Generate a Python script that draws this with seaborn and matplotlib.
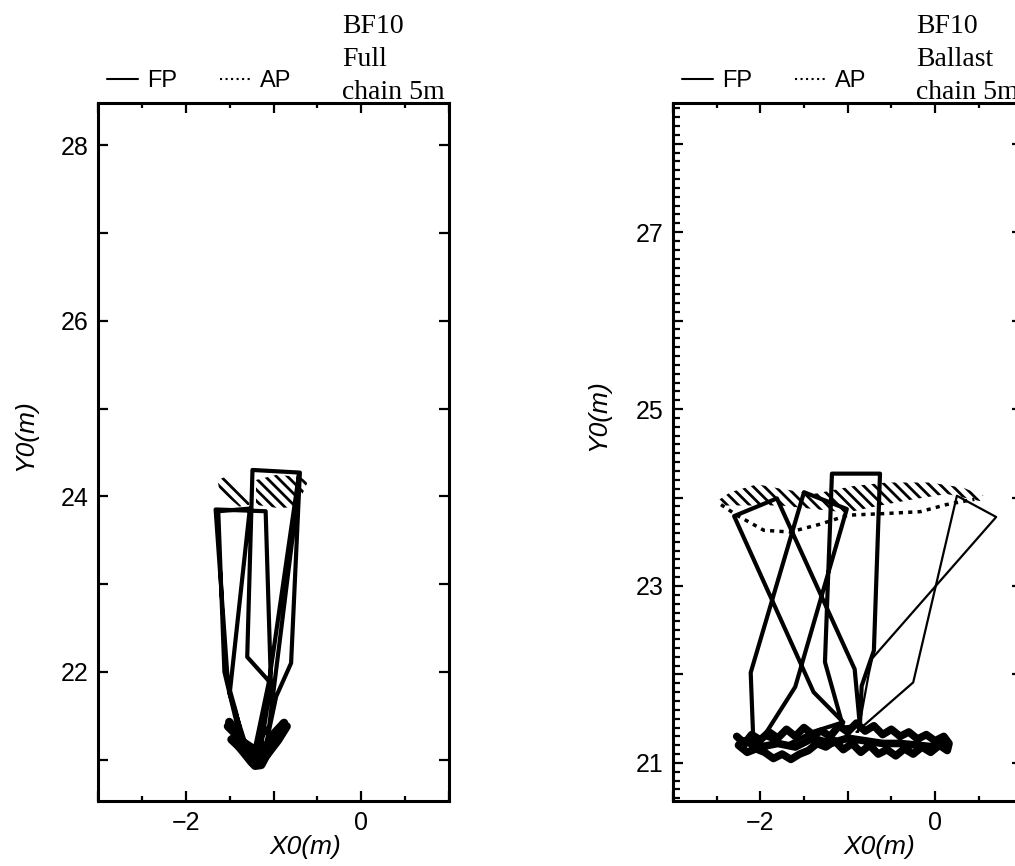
import numpy as np
import matplotlib
matplotlib.use('Agg')
import matplotlib.pyplot as plt
import seaborn as sns
from matplotlib.ticker import MultipleLocator
from matplotlib.lines import Line2D

# ---- data ----
# left panel: BF10 full, chain 5m
full_fp_x = [-1.30, -1.43, -1.52, -1.66, -1.09, -1.03, -1.20, -1.08, -0.97, -0.80, -0.70, -1.24,
             -1.30, -1.03, -1.15, -1.38, -1.56, -1.63, -1.27, -1.50, -1.28, -1.05, -0.74, -0.71,
             -1.05, -1.25]
full_fp_y = [21.00, 21.55, 21.87, 23.85, 23.83, 21.87, 20.98, 21.20, 21.72, 22.10, 24.27, 24.30,
             22.17, 21.87, 21.10, 21.25, 22.00, 23.83, 23.86, 21.75, 21.05, 21.38, 23.88, 24.25,
             21.90, 20.95]
full_blob_x = [-1.505, -1.39, -1.48, -1.33, -1.41, -1.25, -1.21, -1.14, -1.05, -1.12, -0.96,
               -1.02, -0.88, -0.93, -0.85, -0.95, -1.08, -1.18, -1.30, -1.44, -1.52]
full_blob_y = [21.43, 21.28, 21.23, 21.09, 21.17, 20.97, 20.93, 20.94, 21.11, 21.13, 21.28,
               21.27, 21.42, 21.34, 21.38, 21.22, 21.05, 21.00, 21.15, 21.30, 21.38]
full_ap1_x = [-1.638, -1.543, -1.277, -1.277, -1.391, -1.619]
full_ap1_y = [24.186, 24.224, 23.996, 23.902, 23.883, 24.072]
full_ap2_x = [-1.200, -0.972, -0.705, -0.610, -0.667, -0.743, -0.934, -1.200]
full_ap2_y = [24.186, 24.243, 24.224, 24.167, 24.034, 23.883, 23.864, 23.902]

# right panel: BF10 ballast, chain 5m
ball_fp_x = [-2.08, -2.11, -1.50, -1.01, -1.60, -1.96, -1.70, -1.40, -1.05, -1.39, -2.30, -1.81,
             -0.92, -0.86, -1.05, -1.26, -1.18, -0.63, -0.70, -0.84, -0.86]
ball_fp_y = [21.25, 22.02, 24.06, 23.87, 21.86, 21.30, 21.20, 21.35, 21.46, 21.80, 23.79, 23.99,
             22.06, 21.42, 21.40, 22.14, 24.27, 24.27, 22.27, 21.87, 21.42]
ball_thin_x = [-0.90, -0.25, 0.25, 0.70, -0.72, -0.76, -0.88]
ball_thin_y = [21.35, 21.91, 24.02, 23.78, 22.18, 22.00, 21.35]
ball_blob_x = [-2.27, -2.18, -2.10, -2.00, -1.90, -1.80, -1.70, -1.60, -1.50, -1.40, -1.30, -1.20,
               -1.10, -1.00, -0.90, -0.80, -0.70, -0.60, -0.50, -0.40, -0.30, -0.20, -0.10, 0.00,
               0.10, 0.16, 0.14, 0.05, -0.05, -0.15, -0.25, -0.35, -0.45, -0.55, -0.65, -0.75,
               -0.85, -0.95, -1.05, -1.15, -1.25, -1.35, -1.45, -1.55, -1.65, -1.75, -1.85, -1.95,
               -2.05, -2.15, -2.25, -2.20, -2.00, -1.80, -1.60, -1.40, -1.20, -1.00, -0.80, -0.60,
               -0.40, -0.20, 0.00, 0.12]
ball_blob_y = [21.30, 21.22, 21.32, 21.26, 21.35, 21.28, 21.38, 21.30, 21.40, 21.32, 21.36, 21.30,
               21.42, 21.35, 21.45, 21.36, 21.42, 21.32, 21.38, 21.30, 21.35, 21.27, 21.32, 21.25,
               21.30, 21.22, 21.14, 21.20, 21.12, 21.18, 21.10, 21.16, 21.08, 21.15, 21.10, 21.20,
               21.12, 21.22, 21.15, 21.25, 21.18, 21.22, 21.14, 21.10, 21.04, 21.10, 21.05, 21.12,
               21.16, 21.12, 21.20, 21.25, 21.18, 21.22, 21.18, 21.28, 21.22, 21.28, 21.25, 21.22,
               21.22, 21.20, 21.18, 21.24]
ball_ap_x = [-2.495, -2.343, -2.038, -1.771, -1.390, -0.933, -0.552, -0.057, 0.324, 0.553,
             0.515, 0.134, -0.247, -0.628, -1.009, -1.390, -1.771, -2.152, -2.457]
ball_ap_y = [23.96, 24.06, 24.15, 24.10, 24.04, 24.13, 24.17, 24.17, 24.11, 24.02,
             23.96, 24.04, 23.98, 23.91, 23.83, 23.87, 23.91, 23.91, 23.91]
ball_arc_x = [-2.45, -2.27, -1.96, -1.66, -1.31, -1.00, -0.55, -0.17, 0.13, 0.45]
ball_arc_y = [23.92, 23.80, 23.63, 23.61, 23.70, 23.80, 23.82, 23.84, 23.92, 23.98]

x_ticks = [-3, -2, -1, 0, 1]
x_labels = ['', '\u22122', '', '0', '']
full_yticks = [21, 22, 23, 24, 25, 26, 27, 28]
full_ylabels = ['', '22', '', '24', '', '26', '', '28']
ball_yticks = [21, 22, 23, 24, 25, 26, 27, 28]
ball_ylabels = ['21', '', '23', '', '25', '', '27', '']

sns.set_style('ticks')
plt.rcParams['font.family'] = ['Liberation Sans', 'DejaVu Sans']
plt.rcParams['hatch.linewidth'] = 2.0
for key in ['text.color', 'axes.labelcolor', 'xtick.color', 'ytick.color', 'axes.edgecolor']:
    plt.rcParams[key] = 'black'

fig = plt.figure(figsize=(10.15, 8.66), dpi=100)
ax1 = fig.add_axes([0.0966, 0.0751, 0.3458, 0.806])
ax2 = fig.add_axes([0.663, 0.0751, 0.3443, 0.806])


def style_axes(ax, yticks, ylabels, ylim, title, ylab_pos):
    ax.set_xlim(-3, 1)
    ax.set_ylim(*ylim)
    ax.set_xticks(x_ticks)
    ax.set_xticklabels(x_labels)
    ax.xaxis.set_minor_locator(MultipleLocator(0.5))
    ax.set_yticks(yticks)
    ax.set_yticklabels(ylabels)
    ax.tick_params(which='both', direction='in', top=True, right=True, labelsize=18, width=1.6)
    ax.tick_params(which='major', length=7)
    ax.tick_params(which='minor', length=3.5)
    ax.tick_params(axis='x', pad=7)
    ax.tick_params(axis='y', pad=7)
    for sp in ax.spines.values():
        sp.set_linewidth(2.2)
    ax.set_xlabel('X0(m)', fontsize=19, style='italic')
    ax.xaxis.set_label_coords(0.59, -0.049)
    ax.set_ylabel('Y0(m)', fontsize=19, style='italic')
    ax.yaxis.set_label_coords(ylab_pos[0], ylab_pos[1])
    handles = [Line2D([], [], color='k', lw=1.5, ls='-'),
               Line2D([], [], color='k', lw=1.5, ls=':')]
    ax.legend(handles, ['FP', 'AP'], ncol=2, frameon=False, fontsize=17,
              loc='center left', bbox_to_anchor=(0.026, 1.031), borderpad=0, borderaxespad=0,
              handlelength=1.3, handletextpad=0.4, columnspacing=1.8)
    ax.text(0.695, 0.997, title, transform=ax.transAxes, ha='left', va='bottom',
            fontsize=20, family='Liberation Serif', linespacing=1.42)


# left panel
sns.lineplot(x=full_fp_x, y=full_fp_y, sort=False, estimator=None, color='k', linewidth=3.0, ax=ax1)
sns.lineplot(x=full_blob_x, y=full_blob_y, sort=False, estimator=None, color='k', linewidth=6, ax=ax1)
ax1.fill(full_ap1_x, full_ap1_y, facecolor='none', edgecolor='k', hatch='\\\\\\', linewidth=0)
ax1.fill(full_ap2_x, full_ap2_y, facecolor='none', edgecolor='k', hatch='\\\\\\', linewidth=0)
style_axes(ax1, full_yticks, full_ylabels, (20.53, 28.48), 'BF10\nFull\nchain 5m', (-0.174, 0.524))

# right panel
sns.lineplot(x=ball_fp_x, y=ball_fp_y, sort=False, estimator=None, color='k', linewidth=3.0, ax=ax2)
sns.lineplot(x=ball_thin_x, y=ball_thin_y, sort=False, estimator=None, color='k', linewidth=1.6, ax=ax2)
sns.lineplot(x=ball_blob_x, y=ball_blob_y, sort=False, estimator=None, color='k', linewidth=5.5, ax=ax2)
ax2.fill(ball_ap_x, ball_ap_y, facecolor='none', edgecolor='k', hatch='\\\\\\', linewidth=0)
sns.lineplot(x=ball_arc_x, y=ball_arc_y, sort=False, estimator=None, color='k', linewidth=2.5,
             linestyle=(0, (1.2, 1.5)), ax=ax2)
style_axes(ax2, ball_yticks, ball_ylabels, (20.57, 28.46), 'BF10\nBallast\nchain 5m', (-0.18, 0.553))
ax2.yaxis.set_minor_locator(MultipleLocator(0.1))
ax2.tick_params(axis='y', which='minor', right=False, length=5)

fig.savefig('out.png', dpi=100)
